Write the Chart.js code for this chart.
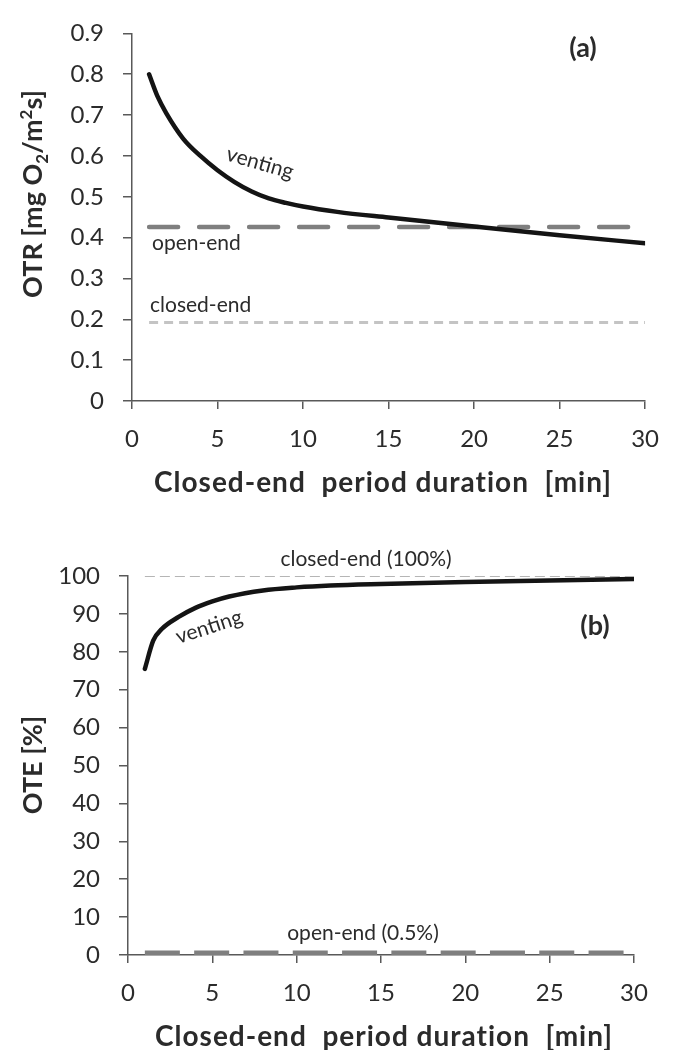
<!DOCTYPE html>
<html><head><meta charset="utf-8">
<script src="https://cdn.jsdelivr.net/npm/chart.js@4"></script>
<style>html,body{margin:0;padding:0;background:#fff;} canvas{display:block;}</style>
</head><body>
<canvas id="ca" width="675" height="525" style="width:675px;height:525px"></canvas>
<canvas id="cb" width="675" height="525" style="width:675px;height:525px"></canvas>
<script>
// ---------- data ----------
const xTicks = [0, 5, 10, 15, 20, 25, 30];
// (a) OTR
const otrTicks = [0, 0.1, 0.2, 0.3, 0.4, 0.5, 0.6, 0.7, 0.8, 0.9];
const otrVentX = [1, 1.5, 2, 3, 4, 5, 6, 7, 8, 9, 10, 12, 15, 20, 25, 30];
const otrVentY = [0.80, 0.745, 0.705, 0.642, 0.600, 0.565, 0.536, 0.513, 0.496, 0.485, 0.476, 0.463, 0.449, 0.427, 0.406, 0.386];
const otrOpenX = [1, 30];
const otrOpenY = [0.426, 0.426];
const otrClosedX = [1, 30];
const otrClosedY = [0.192, 0.192];
// (b) OTE
const oteTicks = [0, 10, 20, 30, 40, 50, 60, 70, 80, 90, 100];
const oteVentX = [1, 1.5, 2, 3, 4, 5, 6, 8, 10, 12, 15, 20, 25, 30];
const oteVentY = [75.5, 83, 86, 89.2, 91.6, 93.3, 94.6, 96.2, 97.0, 97.5, 97.9, 98.4, 98.8, 99.2];
const oteClosedX = [1, 30];
const oteClosedY = [100, 100];
const oteOpenX = [1, 30];
const oteOpenY = [0.5, 0.5];

const pts = (xs, ys) => xs.map((x, i) => ({x: x, y: ys[i]}));

const FONT = 'Lato, "Open Sans", sans-serif';
const AXIS = '#595959';
const TXT = '#2b2b2b';

function drawText(ctx, t, x, y, o) {
  ctx.save();
  ctx.font = o.font;
  ctx.fillStyle = o.color || TXT;
  ctx.textAlign = o.align || 'center';
  ctx.textBaseline = o.baseline || 'middle';
  if (o.ls) ctx.letterSpacing = o.ls;
  ctx.translate(x, y);
  if (o.rot) ctx.rotate(o.rot * Math.PI / 180);
  ctx.fillText(t, 0, 0);
  ctx.restore();
}
// vertical title with sub/superscripts, centred at cy, baseline at bx
function drawVTitle(ctx, parts, bx, cy) {
  const big = 'bold 27px ' + FONT, small = 'bold 17px ' + FONT;
  ctx.save();
  ctx.fillStyle = TXT;
  ctx.textBaseline = 'alphabetic';
  ctx.textAlign = 'left';
  let w = 0;
  parts.forEach(p => { ctx.font = p.s ? small : big; w += ctx.measureText(p.t).width; });
  ctx.translate(bx, cy);
  ctx.rotate(-Math.PI / 2);
  let x = -w / 2;
  parts.forEach(p => {
    ctx.font = p.s ? small : big;
    const dy = p.s === -1 ? 6 : (p.s === 1 ? -10 : 0);
    ctx.fillText(p.t, x, dy);
    x += ctx.measureText(p.t).width;
  });
  ctx.restore();
}

function axisCommon(min, max, tickVals, isY, fmt) {
  return {
    type: 'linear', min: min, max: max,
    afterBuildTicks: s => { s.ticks = tickVals.map(v => ({value: v})); },
    grid: { drawOnChartArea: false, drawTicks: true, tickLength: isY ? 9 : 8, color: AXIS, lineWidth: 1.5 },
    border: { display: true, color: AXIS, width: 1.5 },
    ticks: {
      padding: isY ? 19 : 16,
      color: TXT,
      font: { family: FONT, size: 24 },
      maxRotation: 0, autoSkip: false,
      callback: fmt
    }
  };
}

function makeChart(id, cfg) {
  const H = 525;
  const xS = axisCommon(0, 30, xTicks, false, v => String(v));
  xS.afterFit = s => { s.height = H - cfg.bottom; };
  const yS = axisCommon(cfg.ymin, cfg.ymax, cfg.yticks, true, cfg.yfmt);
  yS.afterFit = s => { s.width = cfg.left; };
  return new Chart(document.getElementById(id), {
    type: 'line',
    data: { datasets: cfg.datasets },
    options: {
      responsive: false, animation: false,
      layout: { padding: { left: 0, right: 675 - cfg.right, top: cfg.top, bottom: 0 } },
      plugins: { legend: { display: false }, tooltip: { enabled: false } },
      scales: { x: xS, y: yS },
      elements: { point: { radius: 0 } }
    },
    plugins: [{ id: 'annot_' + id, afterDraw: chart => cfg.annot(chart.ctx) }]
  });
}

const XTITLE = 'Closed-end  period duration  [min]';

// ---------- (a) ----------
makeChart('ca', {
  left: 132, right: 647, top: 21, bottom: 401,
  ymin: 0, ymax: 0.9, yticks: otrTicks,
  yfmt: v => (v === 0 ? '0' : v.toFixed(1)),
  datasets: [
    { label: 'venting', data: pts(otrVentX, otrVentY), borderColor: '#141414', borderWidth: 4.5,
      cubicInterpolationMode: 'monotone', borderCapStyle: 'round', borderJoinStyle: 'round' },
    { label: 'open-end', data: pts(otrOpenX, otrOpenY), borderColor: '#7f7f7f', borderWidth: 4.5,
      borderDash: [29, 21], borderCapStyle: 'round' },
    { label: 'closed-end', data: pts(otrClosedX, otrClosedY), borderColor: '#c4c4c4', borderWidth: 3,
      borderDash: [9, 6] }
  ],
  annot: ctx => {
    drawText(ctx, 'venting', 260, 163, { font: '21px ' + FONT, rot: 16 });
    drawText(ctx, 'open-end', 152, 243, { font: '21px ' + FONT, align: 'left' });
    drawText(ctx, 'closed-end', 150, 305, { font: '21px ' + FONT, align: 'left' });
    drawText(ctx, '(a)', 583, 48, { font: 'bold 27px ' + FONT });
    drawVTitle(ctx, [{t: 'OTR [mg O'}, {t: '2', s: -1}, {t: '/m'}, {t: '2', s: 1}, {t: 's]'}], 42, 194);
    drawText(ctx, XTITLE, 383, 483, { font: 'bold 28px ' + FONT, ls: '1px' });
  }
});

// ---------- (b) ----------
makeChart('cb', {
  left: 128, right: 634, top: 51, bottom: 430,
  ymin: 0, ymax: 100, yticks: oteTicks,
  yfmt: v => String(v),
  datasets: [
    { label: 'closed-end (100%)', data: pts(oteClosedX, oteClosedY), borderColor: '#b5b5b5', borderWidth: 2,
      borderDash: [10, 5] },
    { label: 'venting', data: pts(oteVentX, oteVentY), borderColor: '#141414', borderWidth: 4.5,
      cubicInterpolationMode: 'monotone', borderCapStyle: 'round', borderJoinStyle: 'round' },
    { label: 'open-end (0.5%)', data: pts(oteOpenX, oteOpenY), borderColor: '#7f7f7f', borderWidth: 5,
      borderDash: [35, 14.3] }
  ],
  annot: ctx => {
    drawText(ctx, 'closed-end (100%)', 366, 34, { font: '21px ' + FONT });
    drawText(ctx, '(b)', 595, 101, { font: 'bold 27px ' + FONT });
    drawText(ctx, 'venting', 209, 102, { font: '21px ' + FONT, rot: -18 });
    drawText(ctx, 'open-end (0.5%)', 363, 408, { font: '21px ' + FONT });
    drawVTitle(ctx, [{t: 'OTE [%]'}], 42, 240);
    drawText(ctx, XTITLE, 384, 512, { font: 'bold 28px ' + FONT, ls: '1px' });
  }
});
</script>
</body></html>
